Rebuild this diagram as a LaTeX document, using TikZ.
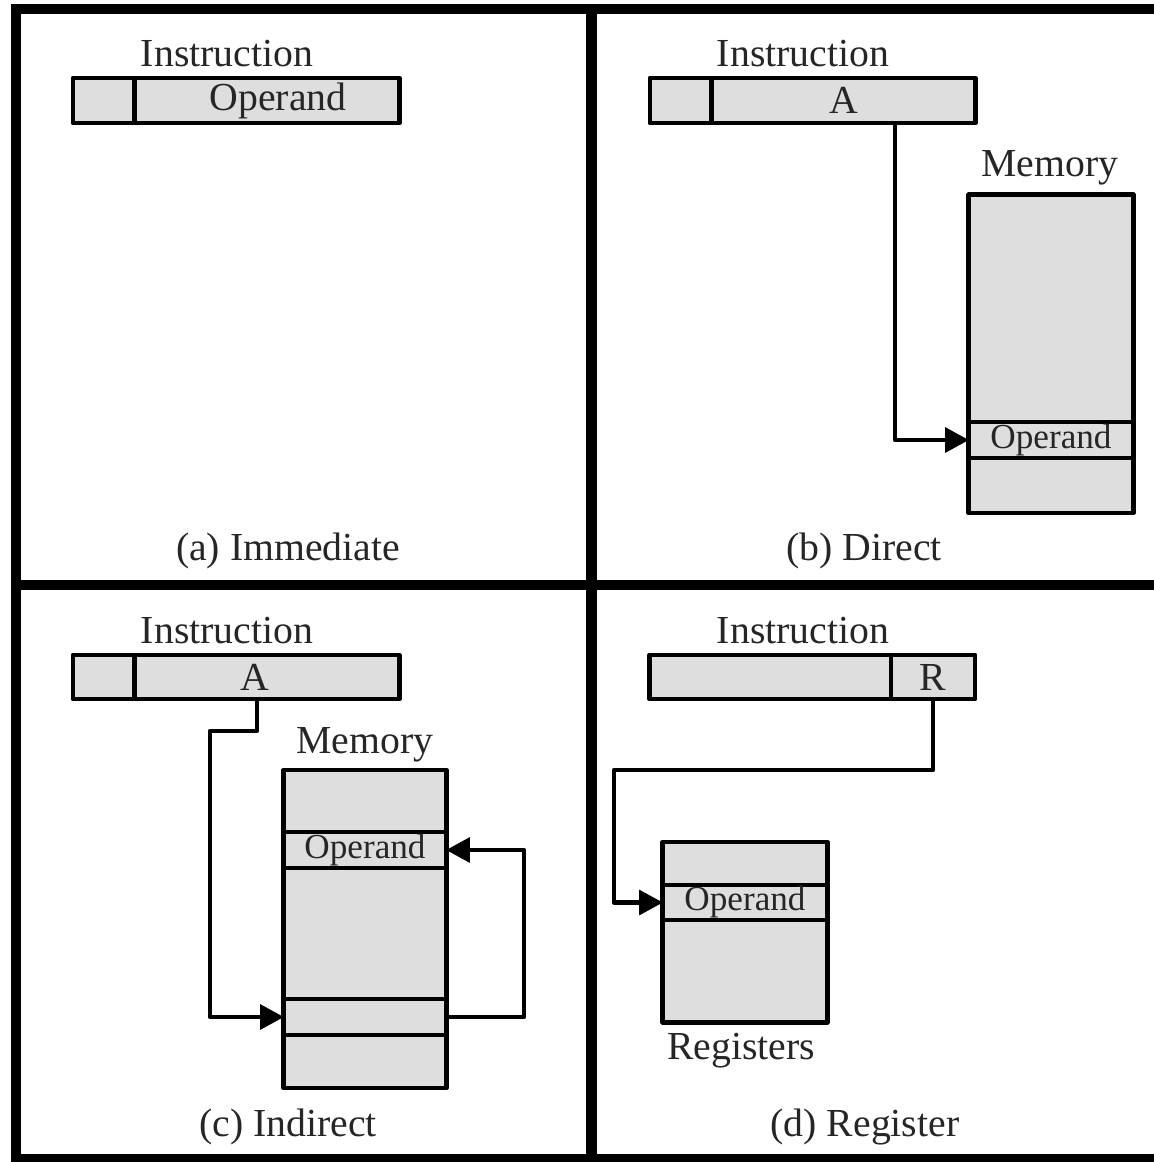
\documentclass[tikz,border=0pt]{standalone}
\usepackage{fontspec}
\setmainfont{Liberation Serif}
\usetikzlibrary{arrows.meta}

\begin{document}
\begin{tikzpicture}[x=0.01cm,y=-0.01cm,>={Triangle[length=6.8pt,width=7pt]},
  cell/.style={draw,fill=black!13,line width=1.4pt,line join=round,inner sep=0pt,outer sep=0pt,
    text=black!85,font=\fontsize{11.3}{13}\selectfont},
  memtxt/.style={font=\fontsize{10}{12}\selectfont},
  lbl/.style={anchor=base,text=black!85,font=\fontsize{11.3}{13}\selectfont},
  frame/.style={line width=2.85pt},
  ptr/.style={->,line width=1.3pt,line join=round}]
\useasboundingbox (0,0) rectangle (1154,1162);
\draw[frame] (1154,9) -- (16,9) -- (16,1159) -- (1154,1159);
\draw[frame] (591.5,9) -- (591.5,1159);
\draw[frame] (16,584.5) -- (1154,584.5);

% (a) immediate
\node[lbl] (ainstr) at (227,66) {Instruction};
\node[cell,minimum width=0.62cm,minimum height=0.45cm] (aop) at (104,100.5) {};
\node[cell,minimum width=2.64cm,minimum height=0.45cm] (aval) at (267,100.5) {\kern0.22cm Operand};
\node[lbl] (acap) at (288,560) {(a) Immediate};

% (b) direct
\node[lbl] (binstr) at (803,66) {Instruction};
\node[cell,minimum width=0.62cm,minimum height=0.45cm] (bop) at (681,100.5) {};
\node[cell,minimum width=2.63cm,minimum height=0.45cm] (baddr) at (843.5,100.5) {A};
\node[lbl] (bmem) at (1050,176) {Memory};
\node[cell,minimum width=1.64cm,minimum height=2.27cm] (bm1) at (1051,308.5) {};
\node[cell,memtxt,minimum width=1.64cm,minimum height=0.36cm] (bmop) at (1051,440) {Operand};
\node[cell,minimum width=1.64cm,minimum height=0.55cm] (bm3) at (1051,485.5) {};
\coordinate (btap) at (895,123);
\draw[ptr] (btap) |- (bmop.west);
\node[lbl] (bcap) at (864,560) {(b) Direct};

% (c) indirect
\node[lbl] (cinstr) at (227,643) {Instruction};
\node[cell,minimum width=0.62cm,minimum height=0.44cm] (cop) at (104,677) {};
\node[cell,minimum width=2.64cm,minimum height=0.44cm] (caddr) at (267,677) {A\kern0.24cm};
\node[lbl] (cmem) at (365,753) {Memory};
\node[cell,minimum width=1.62cm,minimum height=0.62cm] (cm1) at (365,801) {};
\node[cell,memtxt,minimum width=1.62cm,minimum height=0.36cm] (cmop) at (365,850) {Operand};
\node[cell,minimum width=1.62cm,minimum height=1.31cm] (cm3) at (365,933.5) {};
\node[cell,minimum width=1.62cm,minimum height=0.36cm] (cmptr) at (365,1017) {};
\node[cell,minimum width=1.62cm,minimum height=0.53cm] (cm5) at (365,1061.5) {};
\coordinate (ctap) at (257,699);
\coordinate (cbend) at (210,731);
\coordinate (cret) at (524,850);
\draw[ptr] (ctap) |- (cbend) |- (cmptr.west);
\draw[ptr] (cmptr.east) -| (cret) -- (cmop.east);
\node[lbl] (ccap) at (288,1136) {(c) Indirect};

% (d) register
\node[lbl] (dinstr) at (803,643) {Instruction};
\node[cell,minimum width=2.41cm,minimum height=0.44cm] (dop) at (770.5,677) {};
\node[cell,minimum width=0.84cm,minimum height=0.44cm] (dreg) at (933,677) {R};
\node[cell,minimum width=1.64cm,minimum height=0.43cm] (dr1) at (745,863.5) {};
\node[cell,memtxt,minimum width=1.64cm,minimum height=0.35cm] (drop) at (745,902.5) {Operand};
\node[cell,minimum width=1.64cm,minimum height=1.02cm] (dr3) at (745,971) {};
\node[lbl] (dregs) at (741,1059) {Registers};
\coordinate (dbend) at (614,770);
\draw[ptr] (dreg.south) |- (dbend) |- (drop.west);
\node[lbl] (dcap) at (865,1136) {(d) Register};
\end{tikzpicture}
\end{document}
